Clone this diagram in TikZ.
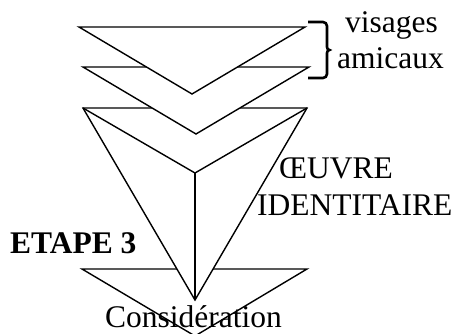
\documentclass[tikz,border=0pt]{standalone}
\usepackage{fontspec}
\setmainfont{Liberation Serif}
\begin{document}
\begin{tikzpicture}[x=1pt,y=-1pt,
  shape line/.style={draw=black,fill=white,line width=1.4pt,line join=miter},
  inner line/.style={draw=black,line width=1.4pt},
  lbl/.style={anchor=base west,inner sep=0pt,font=\fontsize{31.5}{38}\selectfont},
  bracket/.style={draw=black,line width=2.6pt,line cap=butt}]
\useasboundingbox (0,0) rectangle (459,333);
\clip (0,0) rectangle (459,333);
% vertices
\coordinate (d1) at (82,269);  \coordinate (d2) at (307,269);  \coordinate (d3) at (195,336);
\coordinate (p1) at (83,108);  \coordinate (p2) at (307,108);  \coordinate (p3) at (195,300);
\coordinate (pc) at (195,173);
\coordinate (b1) at (83,67);   \coordinate (b2) at (309,67);   \coordinate (b3) at (196,134);
\coordinate (a1) at (79,27);   \coordinate (a2) at (305,27);   \coordinate (a3) at (192,94);
% bottom chevron
\path[shape line] (d1) -- (d2) -- (d3) -- cycle;
% pyramid
\path[shape line] (p1) -- (p2) -- (p3) -- cycle;
\draw[inner line] (p1) -- (pc) -- (p2);
\draw[inner line] (pc) -- (p3);
% second chevron
\path[shape line] (b1) -- (b2) -- (b3) -- cycle;
% top chevron
\path[shape line] (a1) -- (a2) -- (a3) -- cycle;
% bracket
\coordinate (k1) at (308,22);
\coordinate (k2) at (308,78);
\draw[bracket] (k1) -- (323,22) to[out=0,in=90] (327,26) -- (327,47) to[out=-90,in=180] (329.5,50)
  to[out=180,in=90] (327,53) -- (327,74) to[out=-90,in=0] (323,78) -- (k2);
% labels
\node[lbl] (vis) at (345,32) {visages};
\node[lbl] (ami) at (337,68) {amicaux};
\node[lbl] (oeu) at (279,178) {ŒUVRE};
\node[lbl] (ide) at (257,215) {IDENTITAIRE};
\node[lbl,font=\fontsize{31.5}{38}\selectfont\bfseries] (eta) at (10,253) {ETAPE 3};
\node[lbl] (con) at (105,327) {Considération};
\end{tikzpicture}
\end{document}
